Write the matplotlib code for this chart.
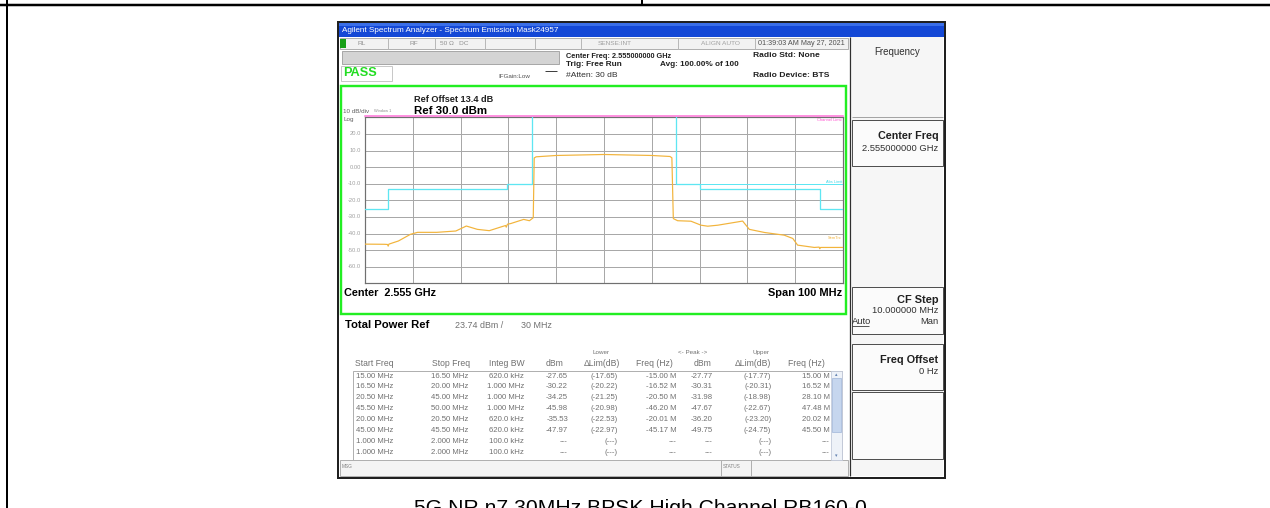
import matplotlib
matplotlib.use("Agg")
import matplotlib.pyplot as plt
from matplotlib.patches import Rectangle

plt.rcParams['font.family'] = ['Liberation Sans', 'DejaVu Sans']

# ---------------- data ----------------
trace_freq_mhz = [-50, -46, -45.3, -45.15, -45.0, -43, -40.5, -39, -35, -31, -28.8, -26.5, -24,
                  -21.5, -20.6, -20.45, -20.2, -19.5, -16.8, -15.6, -14.8, -14.6, -14.2, -10,
                  0, 10, 13.8, 14.2, 14.5, 15.4, 18.2, 20.3, 21.7, 23.8, 28, 29, 30.4, 33.6,
                  37.7, 39.5, 40.5, 44, 45.0, 45.15, 45.3, 50]
trace_dbm = [-46.4, -46.5, -46.6, -47.6, -46.4, -44.5, -40.5, -39.3, -39.3, -38.5, -35.5, -37.5,
             -38.3, -36.0, -35.2, -36.2, -34.4, -34.0, -31.5, -32.3, -30.5, 5.5, 6.2, 7.0,
             7.6, 7.0, 6.4, 5.6, -31.0, -32.3, -32.6, -35.0, -35.6, -35.0, -33.0, -32.5,
             -37.5, -39.4, -41.0, -43.0, -47.0, -48.4, -48.2, -49.2, -48.4, -48.4]

mask_left_freq = [-50, -45.2, -45.2, -20.3, -20.3, -15.1, -15.1]
mask_left_dbm = [-25.3, -25.3, -13.0, -13.0, -10.2, -10.2, 32]
mask_right_freq = [15.1, 15.1, 20.1, 20.1, 45.2, 45.2, 50]
mask_right_dbm = [32, -10.2, -10.2, -13.0, -13.0, -25.3, -25.3]
abs_limit_freq = [15.1, 50]
abs_limit_dbm = [-10.2, -10.2]
channel_limit_dbm = 31.0

y_tick_values = [20, 10, 0, -10, -20, -30, -40, -50, -60]
y_tick_labels = ["20.0", "10.0", "0.00", "-10.0", "-20.0", "-30.0", "-40.0", "-50.0", "-60.0"]

start_freq = ["15.00 MHz", "16.50 MHz", "20.50 MHz", "45.50 MHz", "20.00 MHz", "45.00 MHz", "1.000 MHz", "1.000 MHz"]
stop_freq = ["16.50 MHz", "20.00 MHz", "45.00 MHz", "50.00 MHz", "20.50 MHz", "45.50 MHz", "2.000 MHz", "2.000 MHz"]
integ_bw = ["620.0 kHz", "1.000 MHz", "1.000 MHz", "1.000 MHz", "620.0 kHz", "620.0 kHz", "100.0 kHz", "100.0 kHz"]
lower_dbm = ["-27.65", "-30.22", "-34.25", "-45.98", "-35.53", "-47.97", "---", "---"]
lower_dlim = ["(-17.65)", "(-20.22)", "(-21.25)", "(-20.98)", "(-22.53)", "(-22.97)", "(---)", "(---)"]
lower_freq = ["-15.00 M", "-16.52 M", "-20.50 M", "-46.20 M", "-20.01 M", "-45.17 M", "---", "---"]
upper_dbm = ["-27.77", "-30.31", "-31.98", "-47.67", "-36.20", "-49.75", "---", "---"]
upper_dlim = ["(-17.77)", "(-20.31)", "(-18.98)", "(-22.67)", "(-23.20)", "(-24.75)", "(---)", "(---)"]
upper_freq = ["15.00 M", "16.52 M", "28.10 M", "47.48 M", "20.02 M", "45.50 M", "---", "---"]

caption = "5G NR n7 30MHz BPSK High Channel RB160-0"

# ---------------- figure ----------------
W, H = 1270, 508
fig = plt.figure(figsize=(W / 100, H / 100), dpi=100)
bg = fig.add_axes([0, 0, 1, 1])
bg.set_xlim(0, W)
bg.set_ylim(H, 0)
bg.axis('off')


def px(v):
    return v * 0.72


def R(x0, y0, x1, y1, fc='none', ec='none', lw=1.0, z=1):
    bg.add_patch(Rectangle((x0, y0), x1 - x0, y1 - y0, facecolor=fc, edgecolor=ec,
                           linewidth=px(lw), zorder=z))


def T(x, y, s, size=7, color='black', ha='left', va='center', weight='normal', z=5, **kw):
    bg.text(x, y, s, fontsize=px(size), color=color, ha=ha, va=va, fontweight=weight,
            zorder=z, **kw)


def L(xs, ys, color='black', lw=1.0, z=2):
    bg.plot(xs, ys, color=color, linewidth=px(lw), zorder=z, solid_capstyle='butt')


# document table borders
L([0, W], [5, 5], lw=2.5)
L([7, 7], [0, H], lw=2)
L([642, 642], [0, 5], lw=2)

# caption (cut at bottom as in the source page)
T(640, 513.5, caption, size=21.2, ha='center', va='baseline', color='black')

# ---------------- analyzer window ----------------
WX0, WX1, WY0, WY1 = 338, 945, 22, 478
R(WX0, WY0, WX1, WY1, fc='white', ec='#202020', lw=2, z=1)
# title bar
R(WX0 + 1, WY0 + 1, WX1 - 1, 37, fc='#1448d6', z=2)
R(WX0 + 1, WY0 + 1, WX1 - 1, 26, fc='#3a6ee8', z=2)
T(342, 30.5, "Agilent Spectrum Analyzer - Spectrum Emission Mask24957", size=8.1, color='white', z=6)

# status row
R(340, 38, 848, 49, fc='#f2f2f2', ec='#b0b0b0', lw=1, z=2)
for sx in [388, 435, 485, 535, 581, 678, 755]:
    L([sx, sx], [38, 49], color='#b8b8b8', lw=1, z=3)
R(340, 39, 346, 48, fc='#18a018', z=3)
T(358, 43.7, "RL", size=6.5, color='#909090')
T(409, 43.7, "RF", size=6.5, color='#909090')
T(440, 43.7, "50 \u03a9   DC", size=6.5, color='#909090')
T(615, 43.7, "SENSE:INT", size=6.5, color='#a0a0a0', ha='center')
T(720, 43.7, "ALIGN AUTO", size=6.5, color='#a0a0a0', ha='center')
T(758, 43.7, "01:39:03 AM May 27, 2021", size=7.3, color='#505050')

# gray bar + PASS row
R(342, 50.5, 559, 63.5, fc='#d4d4d4', ec='#a8a8a8', lw=1, z=2)
R(341, 66, 392, 81, fc='white', ec='#c8c8c8', lw=1, z=2)
T(343, 73.5, "PASS", size=12.8, color='#22dd22', weight='bold')
T(498, 76, "IFGain:Low", size=6.3, color='#505050')
L([545, 557], [71, 71], color='#404040', lw=1)
T(566, 56, "Center Freq: 2.555000000 GHz", size=7.4, color='#202020', weight='bold')
T(566, 65, "Trig: Free Run", size=8.3, color='#202020', weight='bold')
T(566, 75.3, "#Atten: 30 dB", size=8.5, color='#303030')
T(660, 65, "Avg: 100.00% of 100", size=8.2, color='#202020', weight='bold')
T(753, 55.3, "Radio Std: None", size=8.5, color='#202020', weight='bold')
T(753, 75.3, "Radio Device: BTS", size=8.5, color='#202020', weight='bold')

# green frame
R(341, 86, 845.5, 313.5, fc='white', ec='#22ee22', lw=2.4, z=2)
T(414, 100, "Ref Offset 13.4 dB", size=9.2, color='#202020', weight='bold')
T(414, 111, "Ref 30.0 dBm", size=11.5, color='black', weight='bold')
T(343, 111.5, "10 dB/div", size=6.3, color='#606060')
T(374, 111.5, "Window 1", size=4, color='#909090')
T(343, 119.5, "Log", size=6.3, color='#606060')
T(344, 293, "Center  2.555 GHz", size=10.9, color='black', weight='bold')
T(842, 293, "Span 100 MHz", size=11, color='black', weight='bold', ha='right')

# total power
T(345, 325, "Total Power Ref", size=11.2, color='black', weight='bold')
T(455, 325.5, "23.74 dBm /", size=8.9, color='#707070')
T(521, 325.5, "30 MHz", size=8.9, color='#707070')

# table
R(353, 370.5, 842, 460, fc='white', ec='#b0b0b0', lw=1, z=2)
R(831, 371, 842, 460, fc='#eef2f8', ec='#c0c8d8', lw=0.8, z=3)
R(832, 378, 841, 432, fc='#c6d6ee', ec='#a8bcdc', lw=0.8, z=3)
T(836.5, 375, "\u25b4", size=5, color='#6080b0', ha='center')
T(836.5, 456, "\u25be", size=5, color='#6080b0', ha='center')

hdr_y = 363.3
grp_y = 352.7
T(601, grp_y, "Lower", size=6.3, color='#707070', ha='center')
T(693, grp_y, "<- Peak ->", size=6.3, color='#707070', ha='center')
T(761, grp_y, "Upper", size=6.3, color='#707070', ha='center')
headers = [("Start Freq", 355, 'left'), ("Stop Freq", 469.7, 'right'),
           ("Integ BW", 524.7, 'right'), ("dBm", 563, 'right'),
           ("\u0394Lim(dB)", 619.7, 'right'), ("Freq (Hz)", 673, 'right'),
           ("dBm", 711.3, 'right'), ("\u0394Lim(dB)", 771.3, 'right'),
           ("Freq (Hz)", 824.7, 'right')]
for s, x, ha in headers:
    T(x, hdr_y, s, size=8.6, color='#707070', ha=ha)

cols = [(start_freq, 356.3, 'left'), (stop_freq, 468, 'right'), (integ_bw, 524, 'right'),
        (lower_dbm, 568, 'right'), (lower_dlim, 618, 'right'), (lower_freq, 676.3, 'right'),
        (upper_dbm, 713, 'right'), (upper_dlim, 771.3, 'right'), (upper_freq, 829.7, 'right')]
row0, drow = 376.0, 10.9
for vals, x, ha in cols:
    for i, v in enumerate(vals):
        T(x, row0 + i * drow, v, size=7.8, color='#707070', ha=ha)

# msg bar
R(340, 460, 848, 476, fc='#f4f4f4', ec='#b0b0b0', lw=1, z=2)
L([721, 721], [460, 476], color='#b0b0b0', lw=1, z=3)
L([751, 751], [460, 476], color='#b0b0b0', lw=1, z=3)
T(342, 467, "MSG", size=4.8, color='#808080')
T(723, 466.5, "STATUS", size=4.8, color='#808080')

# right soft-key panel
R(849, 37, 943, 476, fc='#f6f6f6', ec='none', z=2)
L([850, 850], [37, 476], color='#303030', lw=1.2, z=3)
for (y0, y1) in [(119.5, 166), (287, 334), (344, 390), (392, 459)]:
    R(852, y0, 943, y1, fc='#fbfbfb', ec='#505050', lw=1.0, z=3)
L([852, 943], [117, 117], color='#909090', lw=0.8, z=3)
T(897, 52, "Frequency", size=9.8, color='#303030', ha='center')
T(938.5, 136.3, "Center Freq", size=10.8, color='#202020', weight='bold', ha='right')
T(938.5, 148.7, "2.555000000 GHz", size=9.4, color='#303030', ha='right')
T(938.5, 299.7, "CF Step", size=11, color='#202020', weight='bold', ha='right')
T(938.5, 310.7, "10.000000 MHz", size=9.4, color='#303030', ha='right')
T(852, 321, "Auto", size=9.4, color='#303030')
L([852, 869], [325.5, 325.5], color='#303030', lw=0.8, z=6)
T(938.5, 321, "Man", size=9.4, color='#303030', ha='right')
T(938.5, 360, "Freq Offset", size=10.9, color='#202020', weight='bold', ha='right')
T(938.5, 372, "0 Hz", size=9.4, color='#303030', ha='right')

# ---------------- spectrum plot ----------------
X0, X1, Y0, Y1 = 365, 843, 117.3, 283.3
ax = fig.add_axes([X0 / W, 1 - Y1 / H, (X1 - X0) / W, (Y1 - Y0) / H])
ax.set_xlim(-50, 50)
ax.set_ylim(-70, 30)
ax.set_facecolor('white')
ax.set_xticks(range(-50, 51, 10))
ax.set_yticks(range(-70, 31, 10))
ax.grid(True, color='#a8a8a8', linewidth=px(1.0))
ax.tick_params(length=0, labelbottom=False, labelleft=False)
for s in ax.spines.values():
    s.set_color('#707070')
    s.set_linewidth(px(1.2))

ax.plot(mask_left_freq, mask_left_dbm, color='#5ee6f2', linewidth=px(1.3), clip_on=True, zorder=3)
ax.plot(mask_right_freq, mask_right_dbm, color='#5ee6f2', linewidth=px(1.3), clip_on=True, zorder=3)
ax.plot(abs_limit_freq, abs_limit_dbm, color='#5ee6f2', linewidth=px(1.0), zorder=3)
ax.plot([-50, 50], [channel_limit_dbm, channel_limit_dbm], color='#ff70d8', linewidth=px(1.5),
        clip_on=False, zorder=4)
ax.plot(trace_freq_mhz, trace_dbm, color='#f2b43c', linewidth=px(1.2), zorder=5)

ax.text(49.8, 28.5, "Channel Limit", fontsize=px(4), color='#ff50d0', ha='right', va='center')
ax.text(49.8, -9.2, "Abs Limit", fontsize=px(4), color='#40d8ea', ha='right', va='center')
ax.text(49.8, -43.0, "SemTrc", fontsize=px(4), color='#f2b43c', ha='right', va='center')

for v, lab in zip(y_tick_values, y_tick_labels):
    ax.text(-50.8, v, lab, fontsize=px(5.8), color='#a0a0a0', ha='right', va='center', clip_on=False)

fig.savefig("out.png", dpi=100)
